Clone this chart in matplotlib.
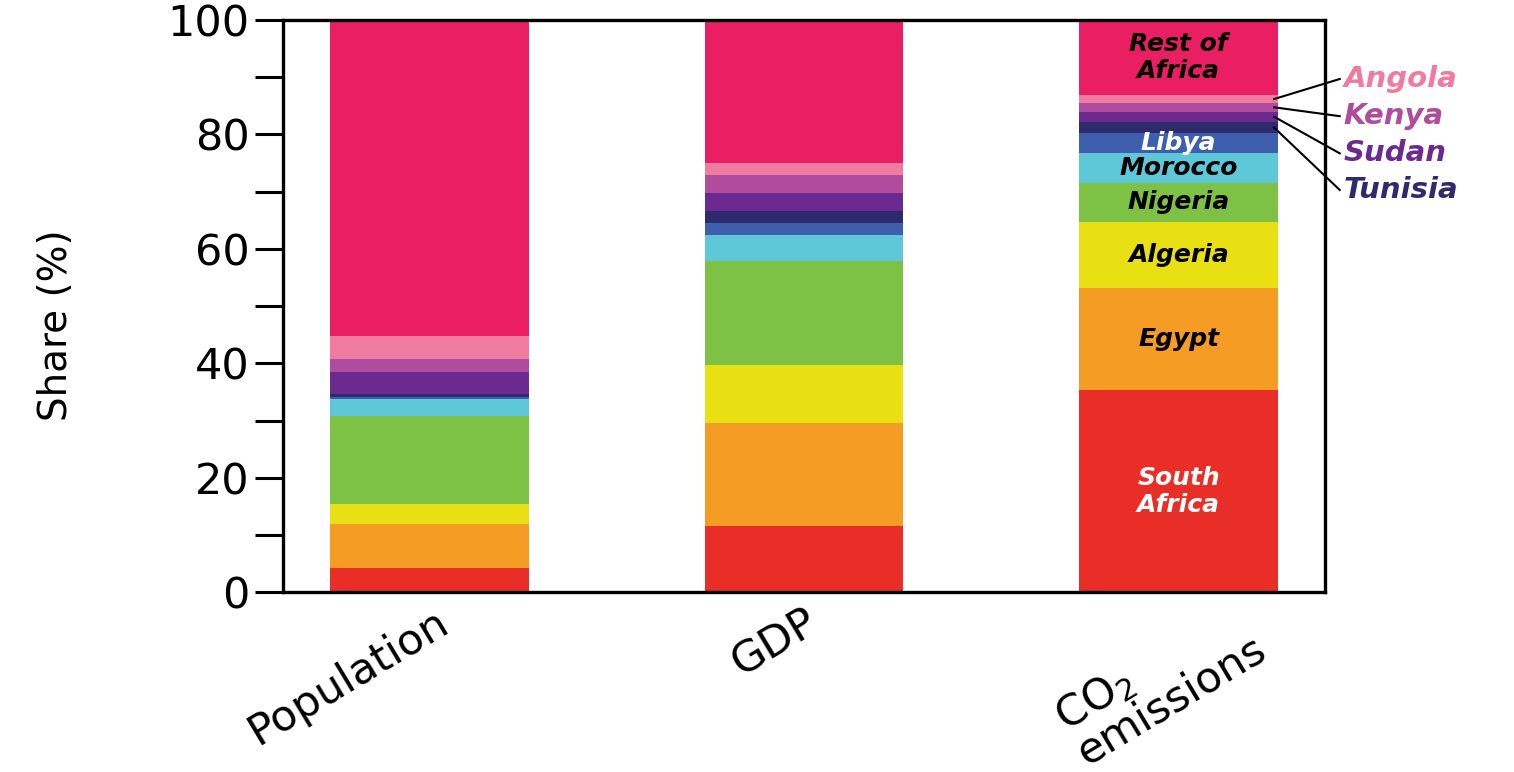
import matplotlib.pyplot as plt
import matplotlib.transforms as mtransforms
import numpy as np

# categories (bars) and stacked shares in %, bottom to top
categories = ['Population', 'GDP', 'CO$_2$\nemissions']
countries = ['South Africa', 'Egypt', 'Algeria', 'Nigeria', 'Morocco', 'Libya',
             'Tunisia', 'Sudan', 'Kenya', 'Angola', 'Rest of Africa']
population = [4.2, 7.7, 3.5, 15.4, 2.9, 0.4, 0.5, 3.9, 2.2, 4.1, 55.2]
gdp = [11.6, 17.9, 10.2, 18.2, 4.5, 2.2, 2.0, 3.2, 3.2, 2.1, 24.9]
co2 = [35.3, 17.9, 11.5, 6.9, 5.1, 3.5, 2.0, 1.8, 1.5, 1.4, 13.1]

colors = ['#e92d27', '#f59c24', '#e8e012', '#7dc244', '#5ec8d8', '#3d5fae',
          '#2e2b6d', '#6b2a8f', '#b04c9d', '#f07ba0', '#ea1e63']
# label text inside the CO2 bar (None = labelled outside)
inside_labels = ['South\nAfrica', 'Egypt', 'Algeria', 'Nigeria', 'Morocco', 'Libya',
                 None, None, None, None, 'Rest of\nAfrica']
inside_colors = ['white', 'black', 'black', 'black', 'black', 'white',
                 None, None, None, None, 'black']
# countries labelled on the right with leader lines
outside = ['Angola', 'Kenya', 'Sudan', 'Tunisia']
outside_y = [89.7, 83.2, 76.7, 70.3]

plt.rcParams['font.family'] = 'DejaVu Sans'
fig = plt.figure(figsize=(15.14, 7.72), dpi=100)
ax = fig.add_axes([0.187, 0.233, 0.688, 0.741])

data = np.array([population, gdp, co2])
x = np.arange(len(categories))
width = 0.53
bottom = np.zeros(len(categories))
for i, c in enumerate(countries):
    ax.bar(x, data[:, i], width, bottom=bottom, color=colors[i], linewidth=0)
    bottom += data[:, i]

# labels in the CO2 bar
co2_bottoms = np.concatenate([[0], np.cumsum(co2)[:-1]])
for i, lab in enumerate(inside_labels):
    if lab is None:
        continue
    ax.text(2, co2_bottoms[i] + co2[i] / 2, lab, ha='center', va='center',
            fontsize=18, fontweight='bold', fontstyle='italic',
            color=inside_colors[i], linespacing=1.15)

# leader lines for thin segments
for name, ly in zip(outside, outside_y):
    i = countries.index(name)
    mid = co2_bottoms[i] + co2[i] / 2
    ax.plot([2 + width / 2 - 0.01, 2.43], [mid, ly], color='black', lw=1.5,
            clip_on=False)
    ax.text(2.44, ly, name, ha='left', va='center', fontsize=21,
            fontweight='bold', fontstyle='italic', color=colors[i],
            clip_on=False)

ax.set_xlim(-0.39, 2.39)
ax.set_ylim(0, 100)
ax.set_yticks(np.arange(0, 101, 20))
ax.set_yticks(np.arange(10, 100, 20), minor=True)
ax.tick_params(axis='y', which='both', direction='out', length=20, width=2.2,
               labelsize=31, pad=4)
ax.tick_params(axis='x', length=0, pad=6)
ax.set_xticks(x)
labels = ax.set_xticklabels(categories, rotation=31, ha='right',
                            rotation_mode='anchor', fontsize=31,
                            linespacing=0.95)
# CO2 label: left-justified lines, shifted right of the bar centre
labels[2].set_multialignment('left')
labels[2].set_transform(labels[2].get_transform() +
                        mtransforms.ScaledTranslation(0.52, 0.08, fig.dpi_scale_trans))
labels[0].set_transform(labels[0].get_transform() +
                        mtransforms.ScaledTranslation(0.05, 0, fig.dpi_scale_trans))
ax.set_ylabel('Share (%)', fontsize=28)
ax.yaxis.set_label_coords(-0.2, 0.467)
for s in ax.spines.values():
    s.set_linewidth(2.4)

fig.savefig('out.png', dpi=100)
